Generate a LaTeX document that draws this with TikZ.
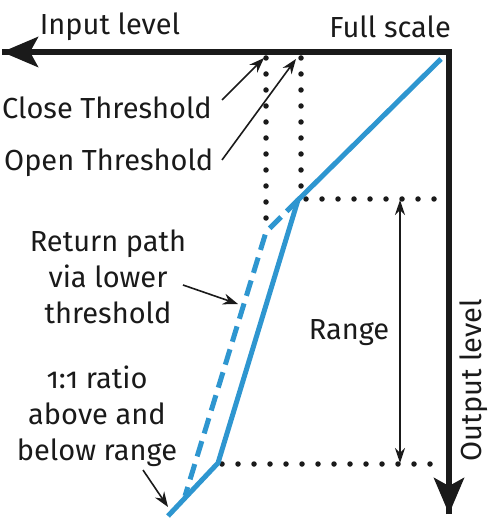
\documentclass[tikz,border=0pt]{standalone}
\usepackage{fontspec}
\setmainfont{Fira Sans}
\usetikzlibrary{arrows.meta}
\definecolor{lineblue}{HTML}{2E96D0}
\definecolor{ink}{HTML}{1A1A1A}
\tikzset{
  axis/.style={line width=6pt, ink, -{Stealth[length=36pt,width=30pt,inset=8pt]}},
  curve/.style={line width=5pt, lineblue, line join=miter},
  retpath/.style={line width=5pt, lineblue, dash pattern=on 16pt off 8pt},
  dots/.style={line width=5.5pt, ink, line cap=round, dash pattern=on 0pt off 16pt},
  note/.style={line width=1.6pt, ink, -{Stealth[length=15pt,width=11pt]}},
  rangearrow/.style={line width=1.4pt, ink, {Stealth[length=15pt,width=10pt]}-{Stealth[length=15pt,width=10pt]}},
  lbl/.style={font=\fontsize{29}{36}\selectfont, text=ink, inner sep=0pt, align=center},
}
\begin{document}
\begin{tikzpicture}[x=1pt,y=-1pt]
\useasboundingbox (0,0) rectangle (500,529);
% key points
\coordinate (corner) at (449,52);
\coordinate (inend) at (2,52);
\coordinate (outend) at (449,514);
\coordinate (fs) at (441,59);
\coordinate (open) at (298,200);
\coordinate (close) at (266,232);
\coordinate (low) at (218,463);
\coordinate (bot) at (168,516);
\coordinate (retend) at (185,496);
\coordinate (ctop) at (266,58);
\coordinate (otop) at (301,58);
\coordinate (oright) at (445,199);
\coordinate (oleft) at (306,199);
\coordinate (lright) at (445,464);
\coordinate (lleft) at (222,464);
\coordinate (rtop) at (400,200);
\coordinate (rbot) at (400,463);
% dotted guides
\draw[dots] (ctop) -- (close);
\draw[dots] (otop) -- (301,196);
\draw[dots] (oleft) -- (oright);
\draw[dots] (lleft) -- (lright);
% axes
\draw[line width=6pt, ink] (449,514) -- (corner) -- (inend);
\draw[axis] (corner) -- (inend);
\draw[axis] (corner) -- (outend);
% curves
\draw[retpath] (open) -- (close) -- (retend);
\draw[curve] (fs) -- (open) -- (low) -- (bot);
% range
\draw[rangearrow] (rtop) -- (rbot);
% labels
\node[lbl] (inlab) at (110,27) {Input level};
\node[lbl, anchor=east] (fslab) at (451,27) {Full scale};
\node[lbl, anchor=west] (closelab) at (2,108) {Close Threshold};
\node[lbl, anchor=west] (openlab) at (4,163) {Open Threshold};
\node[lbl] (retlab) at (108,277) {Return path\\via lower\\threshold};
\node[lbl] (rangelab) at (349,333) {Range};
\node[lbl] (ratiolab) at (97,416) {{\addfontfeatures{Numbers=OldStyle}1:1} ratio\\above and\\below range};
\node[lbl, rotate=90] (outlab) at (474,380) {Output level};
% annotation arrows
\coordinate (c1) at (222,100);
\coordinate (c2) at (264,58);
\coordinate (o1) at (222,160);
\coordinate (o2) at (296,59);
\coordinate (r1) at (183,285);
\coordinate (r2) at (238,304);
\coordinate (b1) at (143,470);
\coordinate (b2) at (168,507);
\draw[note] (c1) -- (c2);
\draw[note] (o1) -- (o2);
\draw[note] (r1) -- (r2);
\draw[note] (b1) -- (b2);
\end{tikzpicture}
\end{document}
